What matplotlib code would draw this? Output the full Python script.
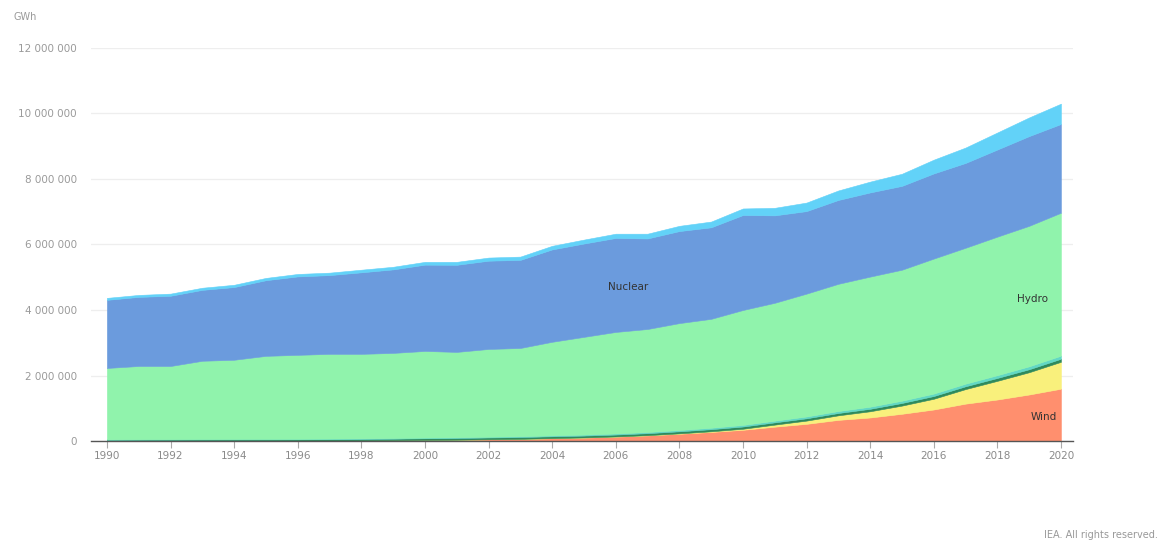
import matplotlib
matplotlib.use("Agg")
import matplotlib.pyplot as plt
from matplotlib.ticker import FuncFormatter

years = list(range(1990, 2021))

wind = [3900, 4200, 4700, 5600, 7300, 8300, 9200, 12000, 16000, 21000, 31000, 38000, 52000, 63000,
        85000, 104000, 133000, 171000, 221000, 276000, 342000, 437000, 524000, 645000, 718000,
        831000, 962000, 1141000, 1267000, 1420000, 1597000]
solar = [100, 100, 100, 200, 200, 300, 300, 400, 500, 700, 800, 1100, 1500, 2000, 2600, 3700, 5000,
         7000, 12000, 20000, 32000, 63000, 99000, 139000, 190000, 250000, 328000, 444000, 570000,
         680000, 821000]
geothermal = [36000, 38000, 39000, 40000, 40000, 40000, 42000, 44000, 46000, 49000, 52000, 53000,
              54000, 56000, 57000, 58000, 59000, 61000, 63000, 65000, 68000, 69000, 70000, 71000,
              75000, 80000, 83000, 86000, 88000, 91000, 93000]
other = [10000, 11000, 12000, 13000, 14000, 15000, 16000, 17000, 18000, 19000, 20000, 21000, 23000,
         25000, 27000, 30000, 33000, 36000, 40000, 44000, 48000, 52000, 56000, 60000, 65000, 70000,
         75000, 80000, 85000, 90000, 95000]
hydro = [2180000, 2237000, 2234000, 2391000, 2419000, 2536000, 2563000, 2587000, 2580000, 2600000,
         2646000, 2607000, 2680000, 2694000, 2858000, 2984000, 3100000, 3145000, 3264000, 3325000,
         3510000, 3599000, 3751000, 3885000, 3972000, 3999000, 4122000, 4149000, 4230000, 4289000,
         4364000]
nuclear = [2080000, 2110000, 2145000, 2165000, 2220000, 2310000, 2395000, 2405000, 2490000, 2550000,
           2635000, 2660000, 2695000, 2690000, 2820000, 2850000, 2870000, 2765000, 2810000, 2795000,
           2900000, 2670000, 2520000, 2560000, 2570000, 2560000, 2600000, 2590000, 2660000, 2740000,
           2710000]
bioenergy = [60000, 60000, 65000, 65000, 70000, 70000, 75000, 75000, 80000, 80000, 85000, 90000,
             95000, 100000, 110000, 120000, 130000, 145000, 160000, 175000, 200000, 230000, 260000,
             290000, 330000, 370000, 420000, 470000, 520000, 570000, 620000]

series = [wind, solar, geothermal, other, hydro, nuclear, bioenergy]
colors = ["#ff8f6e", "#f9f07c", "#2f8a5c", "#62d8c4", "#90f3ac", "#6b9bdd", "#62d2f8"]

fig = plt.figure(figsize=(11.61, 5.42), dpi=100)
ax = fig.add_axes([91 / 1161, 101 / 542, 982 / 1161, 393 / 542])

polys = ax.stackplot(years, *series, colors=colors, linewidth=0.4)
for p, c in zip(polys, colors):
    p.set_edgecolor(c)

ax.set_xlim(1989.5, 2020.38)
ax.set_ylim(0, 12000000)
ax.set_yticks(range(0, 12000001, 2000000))
ax.yaxis.set_major_formatter(FuncFormatter(lambda v, p: f"{int(v):,}".replace(",", " ")))
ax.set_xticks(range(1990, 2021, 2))
ax.grid(axis="y", color="#eeeeee", linewidth=0.9)
ax.set_axisbelow(True)
for s in ["top", "right", "left"]:
    ax.spines[s].set_visible(False)
ax.spines["bottom"].set_color("#555555")
ax.spines["bottom"].set_linewidth(1.0)
ax.spines["bottom"].set_zorder(5)
ax.tick_params(axis="x", length=5, color="#aaaaaa", labelsize=7.5, labelcolor="#8a8a8a", pad=2)
ax.tick_params(axis="y", length=0, labelsize=7.5, labelcolor="#9a9a9a", pad=10)

ax.text(2006.4, 4.70e6, "Nuclear", fontsize=7.5, color="#333333", ha="center", va="center")
ax.text(2019.1, 4.35e6, "Hydro", fontsize=7.5, color="#333333", ha="center", va="center")
ax.text(2019.45, 0.72e6, "Wind", fontsize=7.5, color="#333333", ha="center", va="center")

fig.text(13 / 1161, 1 - 17 / 542, "GWh", fontsize=7, color="#999999", ha="left", va="center")
fig.text(1158 / 1161, 1 - 535 / 542, "IEA. All rights reserved.", fontsize=7, color="#999999",
         ha="right", va="center")

fig.savefig("out.png", dpi=100)
